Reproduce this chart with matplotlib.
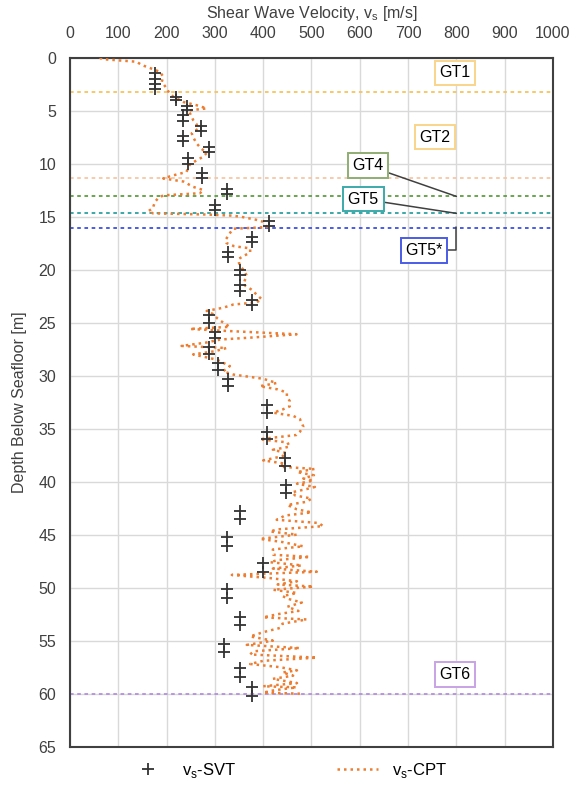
import matplotlib
matplotlib.use("Agg")
import matplotlib.pyplot as plt

plt.rcParams['font.family'] = ['Liberation Sans Narrow', 'Liberation Sans', 'DejaVu Sans']

# SVT measurements (velocity m/s, depth m)
svt_v = [176, 176, 176, 176, 219, 219, 243, 243, 233, 233, 272, 272, 233, 233,
         288, 288, 245, 245, 273, 273, 326, 326, 301, 301, 411, 411, 376, 376,
         328, 328, 351, 351, 352, 352, 376, 376, 288, 288, 300, 300, 288, 288,
         307, 307, 328, 328, 407, 407, 408, 408, 445, 445, 447, 447, 351, 351,
         326, 326, 400, 400, 326, 326, 351, 351, 319, 319, 351, 351, 377, 377]
svt_d = [1.5, 2.0, 2.5, 2.95, 3.7, 4.05, 4.6, 4.95, 5.45, 5.95, 6.45, 6.9, 7.4, 7.85,
         8.4, 8.95, 9.5, 10.0, 10.9, 11.4, 12.4, 12.9, 13.9, 14.4, 15.4, 15.9, 16.9, 17.4,
         18.3, 18.85, 20.05, 20.5, 21.5, 22.0, 22.9, 23.35, 24.3, 25.0, 25.9, 26.5, 27.3, 28.0,
         28.8, 29.5, 30.3, 31.0, 32.8, 33.55, 35.3, 36.0, 37.8, 38.55, 40.3, 41.05, 42.75, 43.55,
         45.2, 46.05, 47.7, 48.5, 50.15, 51.0, 52.75, 53.5, 55.3, 56.05, 57.6, 58.45, 59.4, 60.25]

# CPT-derived profile
cpt_d = [0.0, 0.15, 0.4, 0.7, 1.0, 1.35, 1.8, 2.3, 2.9, 3.4, 3.7, 4.2, 4.5, 4.8, 5.0,
         5.4, 5.9, 6.3, 6.7, 7.15, 7.6, 8.1, 8.6, 9.0, 9.35, 9.7, 10.1, 10.5, 10.8, 11.1,
         11.4, 11.7, 12.2, 12.5, 12.8, 13.0, 13.3, 13.6, 14.0, 14.2, 14.5, 14.7, 14.8, 14.9,
         15.0, 15.3, 15.5, 15.8, 16.0, 16.15, 16.5, 16.8, 17.2, 17.5, 17.8, 18.0, 18.4, 18.7,
         19.0, 19.4, 19.8, 20.2, 20.6, 21.0, 21.4, 21.9, 22.3, 22.8, 23.1, 23.3, 23.6, 23.9,
         24.2, 24.6, 25.0, 25.4, 25.6, 25.8, 26.1, 26.4, 26.6, 26.9, 27.2, 27.4, 27.7, 28.0,
         28.5, 29.1, 29.6, 29.9, 30.3, 30.7, 31.0, 31.3, 31.6, 32.0, 32.4, 32.9, 33.2, 33.5,
         33.8, 34.1, 34.5, 34.8, 35.3, 35.6, 36.0, 36.3, 36.7, 37.0, 37.3, 37.6, 38.0, 38.3,
         38.6, 38.8, 39.1, 39.4, 39.7, 39.9, 40.2, 40.5, 40.7, 41.0, 41.3, 41.6, 41.9, 42.2,
         42.6, 42.9, 43.2, 43.6, 43.9, 44.2, 44.5, 44.7, 45.0, 45.4, 45.7, 46.1, 46.4, 46.9,
         47.1, 47.4, 47.6, 47.9, 48.2, 48.5, 48.8, 49.1, 49.4, 49.7, 49.9, 50.2, 50.5, 50.8,
         51.1, 51.4, 51.8, 52.2, 52.5, 52.8, 53.0, 53.4, 53.8, 54.2, 54.6, 55.0, 55.4, 55.7,
         56.0, 56.3, 56.6, 56.9, 57.2, 57.5, 57.8, 58.0, 58.3, 58.6, 59.0, 59.3, 59.4, 59.7,
         59.9, 60.0]
cpt_v = [62, 66, 138, 148, 166, 186, 193, 190, 200, 206, 214, 235, 262, 283, 245,
         250, 255, 262, 266, 252, 256, 262, 272, 283, 276, 262, 248, 244, 241, 215,
         193, 235, 255, 276, 269, 193, 182, 176, 173, 172, 162, 172, 276, 331,
         352, 385, 400, 405, 407, 338, 332, 328, 322, 324, 340, 373, 373, 360,
         349, 350, 355, 362, 366, 362, 359, 376, 385, 397, 386, 338, 317, 283,
         296, 305, 317, 331, 248, 330, 469, 380, 311, 280, 231, 324, 300, 255,
         304, 331, 317, 338, 400, 428, 393, 430, 449, 449, 455, 455, 440, 421,
         462, 476, 480, 483, 476, 469, 393, 450, 455, 420, 448, 440, 400, 445,
         435, 507, 470, 505, 483, 504, 470, 507, 490, 460, 466, 500, 490, 450,
         469, 500, 445, 428, 515, 524, 430, 414, 470, 393, 440, 483, 420, 421,
         497, 430, 414, 480, 420, 511, 335, 414, 470, 430, 504, 421, 470, 440,
         455, 480, 450, 473, 430, 400, 490, 440, 435, 400, 373, 420, 366, 476,
         380, 373, 511, 400, 373, 435, 470, 440, 462, 420, 470, 400, 469, 420,
         400, 476]

# unit boundaries
layer_depths = [3.3, 11.4, 13.1, 14.7, 16.05, 60.0]
layer_colors = ['#F6C45E', '#F8C6A4', '#5E9E42', '#2AA1A1', '#3C50E2', '#B58FE0']

fig = plt.figure(figsize=(5.8, 7.91), dpi=100)
ax = fig.add_axes([0.1207, 0.056, 0.8327, 0.8713])

ax.set_xlim(0, 1000)
ax.set_ylim(65, 0)
ax.set_xticks(range(0, 1001, 100))
ax.set_yticks(range(0, 66, 5))
ax.xaxis.tick_top()
ax.xaxis.set_label_position('top')
ax.grid(True, color='#D9D9D9', lw=1.0)
ax.set_axisbelow(True)
ax.tick_params(length=0, labelsize=11.5, colors='#404040', pad=10)
ax.tick_params(axis='x', pad=12)
for s in ax.spines.values():
    s.set_color('#404040')
    s.set_linewidth(1.5)

ax.set_xlabel(r'Shear Wave Velocity, v$_\mathregular{s}$ [m/s]', fontsize=11.5,
              color='#404040', labelpad=6)
ax.set_ylabel('Depth Below Seafloor [m]', fontsize=11.5, color='#404040', labelpad=8)

for dep, col in zip(layer_depths, layer_colors):
    ax.axhline(dep, color=col, lw=1.3, ls=(0, (2, 2)), zorder=2)

ax.plot(cpt_v, cpt_d, color='#ED7D31', lw=1.8, ls=(0, (1, 1.6)),
        label=r'v$_\mathregular{s}$-CPT', zorder=3)
ax.plot(svt_v, svt_d, ls='none', marker='+', ms=8, mew=1.3, color='#333333',
        label=r'v$_\mathregular{s}$-SVT', zorder=4)


def box(ec):
    return dict(boxstyle='square,pad=0.3', fc='white', ec=ec, lw=1.4)


ax.text(797, 1.45, 'GT1', fontsize=11.5, ha='center', va='center', bbox=box('#F9D48A'))
ax.text(756, 7.5, 'GT2', fontsize=11.5, ha='center', va='center', bbox=box('#F9D48A'))
ax.text(797, 58.2, 'GT6', fontsize=11.5, ha='center', va='center', bbox=box('#C9A3E6'))
ax.annotate('GT4', xy=(800, 13.1), xytext=(617, 10.2), fontsize=11.5, ha='center',
            va='center', bbox=box('#8FAE72'),
            arrowprops=dict(arrowstyle='-', color='#404040', lw=1.1, shrinkA=0, shrinkB=0))
ax.annotate('GT5', xy=(800, 14.7), xytext=(607, 13.35), fontsize=11.5, ha='center',
            va='center', bbox=box('#3BAAAA'),
            arrowprops=dict(arrowstyle='-', color='#404040', lw=1.1, shrinkA=0, shrinkB=0))
ax.annotate('GT5*', xy=(800, 16.0), xytext=(733, 18.2), fontsize=11.5, ha='center',
            va='center', bbox=box('#4A5CE6'),
            arrowprops=dict(arrowstyle='-', color='#404040', lw=1.1, shrinkA=0, shrinkB=0,
                            connectionstyle='angle,angleA=0,angleB=90,rad=0'))

handles, labels = ax.get_legend_handles_labels()
fig.legend(handles[::-1], labels[::-1], loc='center', bbox_to_anchor=(0.495, 0.026),
           ncol=2, frameon=False, fontsize=12, columnspacing=6, handlelength=2.5)

fig.savefig('out.png', dpi=100)
